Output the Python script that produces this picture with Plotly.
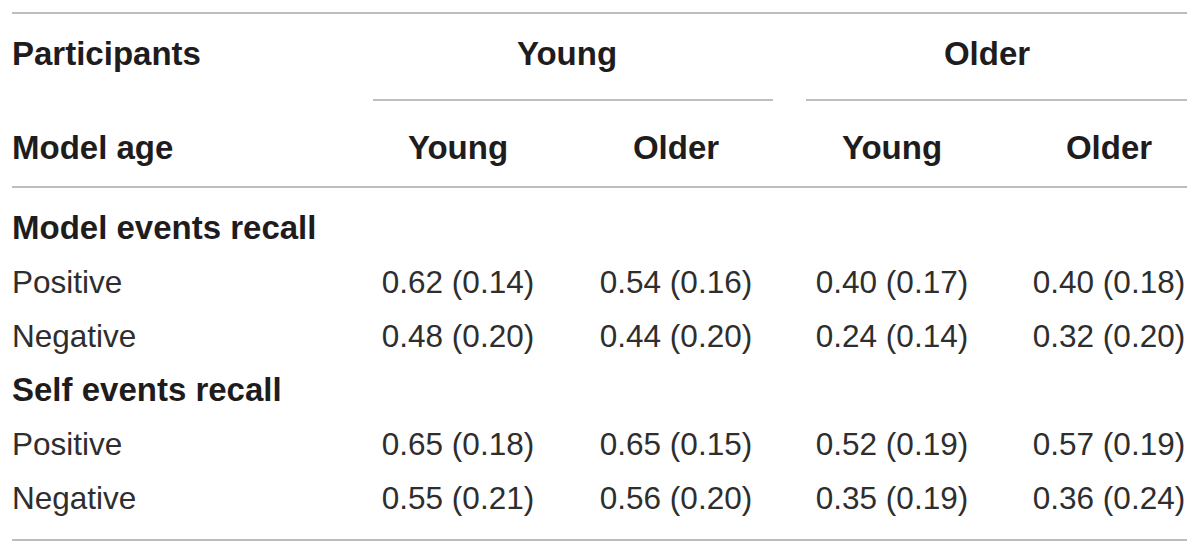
import plotly.graph_objs as go

# ---------- table content ----------
participants = ["Young", "Older"]
model_age = ["Young", "Older", "Young", "Older"]
sections = ["Model events recall", "Self events recall"]
valence = ["Positive", "Negative"]

model_means = [[0.62, 0.54, 0.40, 0.40], [0.48, 0.44, 0.24, 0.32]]
model_sds = [[0.14, 0.16, 0.17, 0.18], [0.20, 0.20, 0.14, 0.20]]
self_means = [[0.65, 0.65, 0.52, 0.57], [0.55, 0.56, 0.35, 0.36]]
self_sds = [[0.18, 0.15, 0.19, 0.19], [0.21, 0.20, 0.19, 0.24]]

# ---------- layout positions (page pixels) ----------
W, H = 1200, 552
PAGE_MARGIN = 8  # default body margin of the html page
left_x = 12
right_x = 1187
col_x = [458, 676, 892, 1109]
group_x = [567, 987]
group_lines = [(373, 773), (806, 1187)]
y_header1 = 57
y_header2 = 151
y_section = [231, 393]
y_rows = [[285, 339], [447, 501]]
rule_y = [13, 187, 540]
span_rule_y = 100

FONT = "Liberation Sans, Arial, Helvetica, sans-serif"
BOLD_SIZE = 33
SIZE = 31.5
TXT = "#1f1c1d"
NUM = "#2e2e2e"
RULE = "#bdbdbd"

fig = go.Figure()


def add_text(xs, ys, texts, pos, bold=False, color=TXT):
    if bold:
        texts = ["<b>%s</b>" % t for t in texts]
    fig.add_trace(go.Scatter(
        x=xs, y=ys, text=texts, mode="text", textposition=pos,
        textfont=dict(family=FONT, size=BOLD_SIZE if bold else SIZE, color=color),
        hoverinfo="skip", showlegend=False, cliponaxis=False
    ))


# header labels
add_text([left_x, left_x], [y_header1, y_header2], ["Participants", "Model age"], "middle right", bold=True)
add_text(group_x, [y_header1] * 2, participants, "middle center", bold=True)
add_text(col_x, [y_header2] * 4, model_age, "middle center", bold=True)

# sections
add_text([left_x] * 2, y_section, sections, "middle right", bold=True)

for sec, (means, sds) in enumerate([(model_means, model_sds), (self_means, self_sds)]):
    add_text([left_x] * 2, y_rows[sec], valence, "middle right", color=NUM)
    for r in range(2):
        cells = ["%.2f (%.2f)" % (m, s) for m, s in zip(means[r], sds[r])]
        add_text(col_x, [y_rows[sec][r]] * 4, cells, "middle center", color=NUM)

# rules
shapes = []
for y in rule_y:
    shapes.append(dict(type="line", xref="x", yref="y", x0=left_x, x1=right_x, y0=y, y1=y,
                       line=dict(color=RULE, width=2)))
for x0, x1 in group_lines:
    shapes.append(dict(type="line", xref="x", yref="y", x0=x0, x1=x1, y0=span_rule_y, y1=span_rule_y,
                       line=dict(color="#a9a9a9", width=1.5)))

fig.update_layout(
    width=W - PAGE_MARGIN, height=H - PAGE_MARGIN,
    margin=dict(l=0, r=0, t=0, b=0),
    paper_bgcolor="white", plot_bgcolor="white",
    xaxis=dict(range=[PAGE_MARGIN, W], visible=False, fixedrange=True),
    yaxis=dict(range=[H, PAGE_MARGIN], visible=False, fixedrange=True),
    shapes=shapes,
)

fig.write_html("out.html")
